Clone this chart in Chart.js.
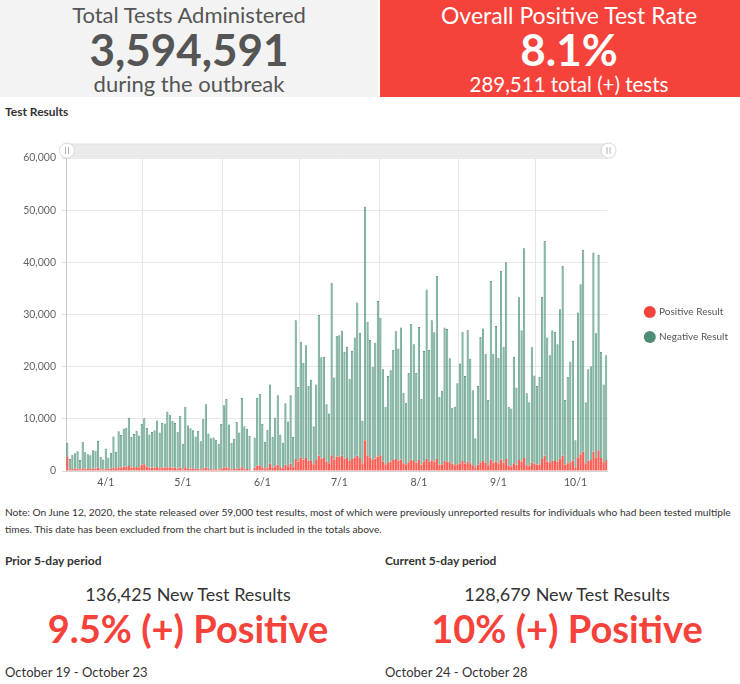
<!DOCTYPE html>
<html>
<head>
<meta charset="utf-8">
<title>Test Results</title>
<script src="https://cdn.jsdelivr.net/npm/chart.js@4.4.1/dist/chart.umd.min.js"></script>
<style>
  body { margin: 0; width: 740px; height: 684px; position: relative; overflow: hidden; background: #fff; font-family: Lato, "Open Sans", sans-serif; color: #333; }
  .abs { position: absolute; white-space: nowrap; }
  .box { position: absolute; top: 0; height: 97px; overflow: hidden; }
  .ctr { text-align: center; }
  .big { font-weight: 700; font-size: 44px; line-height: 44px; }
  .head { font-size: 22px; line-height: 24px; font-weight: 400; }
  .sub { font-weight: 700; font-size: 12px; line-height: 15px; color: #333; }
  .count { font-size: 18px; line-height: 22px; color: #333; }
  .rate { font-weight: 700; font-size: 38px; line-height: 40px; color: #f5423b; }
  .dates { font-size: 13px; line-height: 16px; color: #333; }
  #chartBox { position: absolute; left: 0; top: 125px; width: 740px; height: 370px; }
</style>
</head>
<body>
<div class="box" style="left:0; width:378px; background:#f3f3f3; color:#555;">
  <div class="abs ctr head" style="left:0; width:378px; top:3px;">Total Tests Administered</div>
  <div class="abs ctr big" style="left:0; width:378px; top:27px;">3,594,591</div>
  <div class="abs ctr head" style="left:0; width:378px; top:72px;">during the outbreak</div>
</div>
<div class="box" style="left:380px; width:360px; background:#f5423b; color:#fff;">
  <div class="abs ctr head" style="left:0; width:378px; top:3px; font-size:23px;">Overall Positive Test Rate</div>
  <div class="abs ctr big" style="left:0; width:378px; top:27px;">8.1%</div>
  <div class="abs ctr head" style="left:0; width:378px; top:72px; font-size:20.5px;">289,511 total (+) tests</div>
</div>

<div class="abs" style="left:5px; top:105px; font-size:12px; line-height:14px; font-weight:700; color:#333;">Test Results</div>

<div id="chartBox"><canvas id="testChart"></canvas></div>

<div class="abs" style="left:5px; top:504px; font-size:10.2px; line-height:17px; color:#333;">Note: On June 12, 2020, the state released over 59,000 test results, most of which were previously unreported results for individuals who had been tested multiple<br>times. This date has been excluded from the chart but is included in the totals above.</div>

<div class="abs sub" style="left:5px; top:553px;">Prior 5-day period</div>
<div class="abs ctr count" style="left:0; width:376px; top:583px;">136,425 New Test Results</div>
<div class="abs ctr rate" style="left:0; width:376px; top:608px;">9.5% (+) Positive</div>
<div class="abs dates" style="left:5px; top:664px;">October 19 - October 23</div>

<div class="abs sub" style="left:385px; top:553px;">Current 5-day period</div>
<div class="abs ctr count" style="left:380px; width:374px; top:583px;">128,679 New Test Results</div>
<div class="abs ctr rate" style="left:380px; width:374px; top:608px;">10% (+) Positive</div>
<div class="abs dates" style="left:385px; top:664px;">October 24 - October 28</div>

<script>
// Daily results per month, 4/1 to 10/28 (6/12 left out of the chart)
const monthNumbers = [4, 5, 6, 7, 8, 9, 10];
const monthTickLabels = ['4/1', '5/1', '6/1', '7/1', '8/1', '9/1', '10/1'];
const yTickValues = [0, 10000, 20000, 30000, 40000, 50000, 60000];
const seriesNames = ['Positive Result', 'Negative Result'];

const positiveApr = [2700, 350, 400, 450, 500, 300, 550, 450, 400, 400, 500, 450, 600, 350, 300, 500, 400, 450, 650, 450, 700, 650, 800, 850, 950, 650, 700, 750, 650, 1200];
const negativeApr = [2700, 1950, 2700, 2950, 3300, 1800, 5050, 3150, 2800, 2600, 3500, 3450, 5200, 2350, 1900, 3800, 2200, 3050, 5950, 3250, 6900, 6250, 7300, 7450, 9250, 5850, 6400, 6950, 6150, 7800];

const positiveMay = [1300, 800, 600, 600, 650, 750, 550, 650, 650, 700, 650, 600, 600, 450, 650, 300, 700, 500, 500, 450, 400, 450, 350, 550, 650, 400, 350, 350, 350, 300, 450];
const negativeMay = [8800, 7500, 6400, 6900, 7150, 8950, 6850, 8550, 8450, 10700, 10150, 9000, 8600, 7050, 9950, 4900, 11600, 8200, 7700, 7350, 6200, 7250, 5350, 9450, 12150, 6800, 5950, 6050, 5650, 4900, 8550];

const positiveJun = [600, 700, 500, 350, 400, 500, 400, 700, 450, 400, 350, null, 600, 1000, 1100, 700, 500, 650, 1400, 600, 900, 1200, 700, 550, 1200, 900, 1400, 700, 2300, 1800];
const negativeJun = [12000, 13100, 8400, 5050, 5800, 8900, 7000, 13300, 8150, 7700, 6350, null, 5800, 13000, 13700, 8300, 5100, 7250, 15200, 5900, 9300, 13300, 6300, 4850, 11800, 8600, 13100, 5800, 26600, 14300];

const positiveJul = [2600, 2200, 2500, 2000, 1900, 1300, 2100, 2900, 2400, 2500, 1800, 1500, 3000, 2200, 2800, 2700, 2900, 2400, 2500, 1900, 2300, 2600, 2900, 2500, 1500, 5900, 3000, 2600, 2100, 2400, 2800];
const negativeJul = [22200, 18500, 21600, 14300, 15600, 7300, 14500, 27000, 19400, 19400, 11000, 9500, 33100, 15700, 23100, 23300, 24000, 20400, 21300, 15800, 20700, 23000, 29400, 24000, 8200, 44800, 25600, 22500, 17900, 22200, 29800];

const positiveAug = [3000, 1800, 1300, 1700, 1800, 2100, 2300, 2000, 2200, 1500, 1300, 1700, 2200, 1900, 1600, 2100, 1200, 1800, 2300, 1800, 2000, 1800, 2300, 1200, 1300, 1900, 1800, 1700, 1400, 1100, 1300];
const negativeAug = [26400, 17700, 11000, 16500, 17500, 21100, 24500, 21500, 25300, 13500, 11800, 17100, 26000, 22400, 17200, 25500, 12600, 21200, 32500, 21400, 26900, 24800, 35100, 13000, 14100, 25600, 25400, 19900, 10700, 11200, 15500];

const positiveSep = [1500, 1900, 1400, 1800, 1500, 1100, 700, 1200, 1700, 1900, 1600, 1100, 2200, 1600, 1800, 1500, 2200, 1600, 2300, 1000, 900, 1500, 1200, 2100, 1800, 2500, 1100, 1000, 1600, 1400];
const negativeSep = [19100, 24800, 16800, 25300, 20000, 14400, 5600, 15100, 24000, 25400, 20900, 12500, 34200, 20900, 26000, 20200, 36200, 22200, 37700, 11300, 11100, 20400, 14800, 31200, 25200, 40200, 13800, 12200, 22100, 16900];

const positiveOct = [1200, 1300, 2300, 2900, 1800, 1600, 2000, 1900, 1800, 2400, 2900, 1200, 1500, 1700, 2000, 700, 2600, 3200, 3700, 1500, 2000, 2100, 3700, 2600, 4000, 2500, 1700, 2100];
const negativeOct = [15100, 16700, 31100, 41200, 23800, 20600, 25000, 24800, 22500, 28600, 36400, 12400, 16500, 19300, 22900, 5200, 27800, 32600, 38700, 11700, 17500, 18000, 38200, 23800, 37400, 20300, 14900, 20100];

const positiveByMonth = [positiveApr, positiveMay, positiveJun, positiveJul, positiveAug, positiveSep, positiveOct];
const negativeByMonth = [negativeApr, negativeMay, negativeJun, negativeJul, negativeAug, negativeSep, negativeOct];

// day labels, the month label sits mid-month, grid line at each month start
const dayLabels = [];
const axisText = [];
const isMonthStart = [];
positiveByMonth.forEach((days, m) => {
    days.forEach((v, i) => {
        dayLabels.push(monthNumbers[m] + '/' + (i + 1));
        axisText.push(i === 15 ? monthTickLabels[m] : '');
        isMonthStart.push(i === 0);
    });
});

const legendColors = ['#f4433b', '#4f8d75'];

// amCharts style scrollbar over the plot
const scrollbarPlugin = {
    id: 'scrollbar',
    beforeDraw(chart) {
        const { ctx, chartArea } = chart;
        const top = chartArea.top - 14;
        const h = 13;
        ctx.save();
        ctx.beginPath();
        ctx.roundRect(chartArea.left, top, chartArea.right - chartArea.left + 2, h, 4);
        ctx.fillStyle = '#ebebeb';
        ctx.fill();
        ctx.strokeStyle = '#e2e2e2';
        ctx.lineWidth = 1;
        ctx.stroke();
        [chartArea.left + 1, chartArea.right + 1].forEach(x => {
            const cy = top + h / 2;
            ctx.beginPath();
            ctx.arc(x, cy, 7.5, 0, Math.PI * 2);
            ctx.fillStyle = '#ffffff';
            ctx.fill();
            ctx.strokeStyle = '#d6d6d6';
            ctx.stroke();
            ctx.beginPath();
            ctx.moveTo(x - 1.5, cy - 3.5); ctx.lineTo(x - 1.5, cy + 3.5);
            ctx.moveTo(x + 1.5, cy - 3.5); ctx.lineTo(x + 1.5, cy + 3.5);
            ctx.strokeStyle = '#b5b5b5';
            ctx.stroke();
        });
        ctx.restore();
    }
};

new Chart(document.getElementById('testChart'), {
    type: 'bar',
    data: {
        labels: dayLabels,
        datasets: [{
            label: seriesNames[0],
            data: positiveByMonth.flat(),
            backgroundColor: '#fb5f56',
            borderWidth: 0,
            barPercentage: 0.85,
            categoryPercentage: 1
        }, {
            label: seriesNames[1],
            data: negativeByMonth.flat(),
            backgroundColor: '#71ae98',
            borderColor: '#4a8971',
            borderWidth: 0.7,
            barPercentage: 0.85,
            categoryPercentage: 1
        }]
    },
    plugins: [scrollbarPlugin],
    options: {
        responsive: true,
        maintainAspectRatio: false,
        animation: false,
        layout: { padding: { left: 0, right: 2, top: 33, bottom: 4 } },
        scales: {
            x: {
                stacked: true,
                grid: {
                    offset: true,
                    drawTicks: false,
                    color: ctx => (ctx.index > 0 && isMonthStart[ctx.index]) ? '#e6e6e6' : 'rgba(0,0,0,0)'
                },
                border: { color: '#d5d5d5' },
                ticks: {
                    autoSkip: false,
                    maxRotation: 0,
                    minRotation: 0,
                    padding: 5,
                    color: '#555',
                    font: { family: 'Lato', size: 10.5 },
                    callback: (value, index) => axisText[index]
                },
                afterFit: scale => { scale.height = 20; }
            },
            y: {
                stacked: true,
                min: 0,
                max: 60000,
                grid: { color: '#e8e8e8', tickLength: 4, tickColor: '#dcdcdc' },
                border: { color: '#c8c8c8' },
                ticks: {
                    padding: 6,
                    color: '#666',
                    font: { family: 'Lato', size: 10.5 },
                    callback: value => value.toLocaleString('en-US')
                },
                afterBuildTicks: scale => { scale.ticks = yTickValues.map(v => ({ value: v })); },
                afterFit: scale => { scale.width = 66; }
            },
            // keeps the legend clear of the plot
            spacer: {
                position: 'right',
                display: true,
                grid: { display: false },
                border: { display: false },
                ticks: { display: false },
                afterFit: scale => { scale.width = 23; }
            }
        },
        plugins: {
            legend: {
                position: 'right',
                labels: {
                    usePointStyle: true,
                    pointStyle: 'circle',
                    boxWidth: 8.5,
                    boxHeight: 8.5,
                    padding: 15,
                    color: '#555',
                    font: { family: 'Lato', size: 10 },
                    generateLabels: chart => {
                        const items = Chart.defaults.plugins.legend.labels.generateLabels(chart);
                        items.forEach((item, i) => {
                            item.fillStyle = legendColors[i];
                            item.strokeStyle = legendColors[i];
                            item.lineWidth = 0;
                        });
                        return items;
                    }
                }
            },
            tooltip: { mode: 'index', intersect: false }
        }
    }
});
</script>
</body>
</html>
